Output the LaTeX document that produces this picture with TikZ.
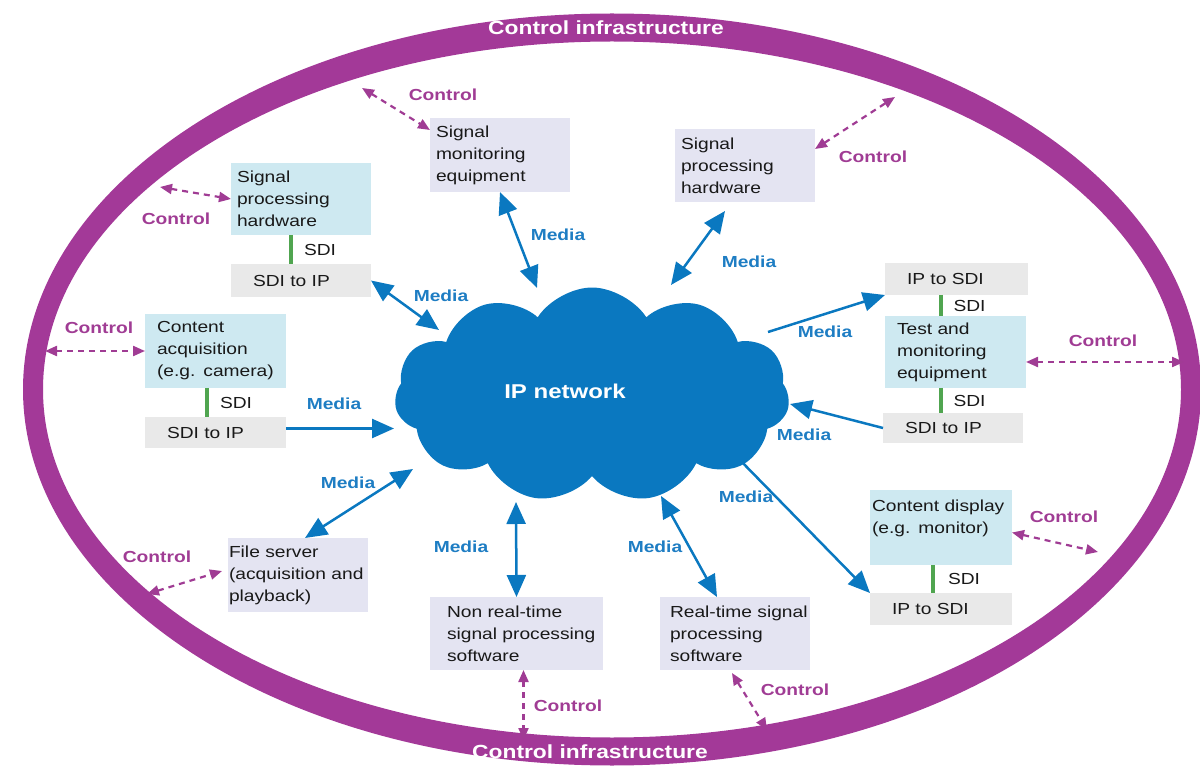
\documentclass[tikz,border=0pt]{standalone}
\usepackage{fontspec}
\setmainfont{Liberation Sans}[FakeStretch=1.2]
\usetikzlibrary{arrows.meta,shapes.symbols}

\definecolor{ringpurple}{RGB}{163,57,152}
\definecolor{ctlpurple}{RGB}{160,60,148}
\definecolor{netblue}{RGB}{10,120,192}
\definecolor{medblue}{RGB}{30,125,195}
\definecolor{paleblue}{RGB}{206,233,241}
\definecolor{lavender}{RGB}{228,228,242}
\definecolor{palegray}{RGB}{233,233,233}
\definecolor{sdigreen}{RGB}{80,165,80}
\definecolor{ink}{RGB}{25,25,25}

\begin{document}
\begin{tikzpicture}[x=1pt,y=-1pt,
  every node/.style={inner sep=0pt, outer sep=0pt},
  unitbox/.style={anchor=north west, inner xsep=6pt, align=left, text=ink,
    font=\fontsize{16}{22}\selectfont},
  devbox/.style={unitbox, fill=paleblue},
  hostbox/.style={unitbox, fill=lavender},
  convbox/.style={unitbox, fill=palegray, inner xsep=22pt},
  sdilink/.style={draw=sdigreen, line width=4pt},
  sditag/.style={font=\fontsize{16}{22}\selectfont, text=ink, anchor=west},
  medialink/.style={draw=netblue, line width=2.5pt, -{Triangle[length=22pt,width=19pt]}},
  mediaboth/.style={draw=netblue, line width=2.5pt,
    {Triangle[length=22pt,width=19pt]}-{Triangle[length=22pt,width=19pt]}},
  ctllink/.style={draw=ctlpurple, line width=2.2pt, dash pattern=on 6pt off 5pt,
    {Triangle[length=12pt,width=10pt]}-{Triangle[length=12pt,width=10pt]}},
  medialbl/.style={font=\bfseries\fontsize{16}{20}\selectfont, text=medblue},
  ctllbl/.style={font=\bfseries\fontsize{16}{20}\selectfont, text=ctlpurple},
  infralbl/.style={font=\bfseries\fontsize{19}{22}\selectfont, text=white},
]
\useasboundingbox (0,0) rectangle (1200,767);

% control infrastructure ring
\fill[ringpurple, even odd rule]
  (612,389.5) ellipse [x radius=589pt, y radius=376pt]
  (612,389.5) ellipse [x radius=569pt, y radius=348pt];
\node[infralbl] (infTop) at (606,28) {Control infrastructure};
\node[infralbl] (infBot) at (590,752) {Control infrastructure};

% IP network cloud
\node[shape=cloud, cloud puffs=11, cloud puff arc=115, aspect=1.8, fill=netblue,
  minimum width=395pt, minimum height=215pt] (net) at (592,395) {};
\node[font=\bfseries\fontsize{20}{24}\selectfont, text=white] (netlbl) at (565,391) {IP network};

% equipment boxes
\node[devbox, text width=128pt, minimum height=72pt] (sphA) at (231,163) {Signal\\processing\\hardware};
\node[convbox, text width=96pt, minimum height=33pt] (sdiA) at (231,264) {SDI to IP};
\node[hostbox, text width=128pt, minimum height=74pt] (mon) at (430,118) {Signal\\monitoring\\equipment};
\node[hostbox, text width=128pt, minimum height=73pt] (sphB) at (675,129) {Signal\\processing\\hardware};
\node[convbox, text width=99pt, minimum height=32pt] (ipsA) at (885,263) {IP to SDI};
\node[devbox, inner xsep=12pt, text width=117pt, minimum height=72pt] (tme) at (885,316) {Test and\\monitoring\\equipment};
\node[convbox, text width=96pt, minimum height=30pt] (sdiB) at (883,413) {SDI to IP};
\node[devbox, inner xsep=2pt, text width=138pt, minimum height=75pt] (cdisp) at (870,490) {\mbox{Content display}\\\mbox{(e.g. monitor)}\\\mbox{}};
\node[convbox, text width=98pt, minimum height=32pt] (ipsC) at (870,593) {IP to SDI};
\node[hostbox, inner xsep=1pt, text width=138pt, minimum height=74pt] (fsrv) at (228,538) {File server\\\mbox{(acquisition and}\\playback)};
\node[hostbox, inner xsep=17pt, text width=139pt, minimum height=73pt] (nrt) at (430,597) {Non real-time\\\mbox{signal processing}\\software};
\node[hostbox, inner xsep=10pt, text width=130pt, minimum height=73pt] (rts) at (660,597) {\mbox{Real-time signal}\\processing\\software};
\node[devbox, inner xsep=12pt, text width=117pt, minimum height=74pt] (cacq) at (145,314) {Content\\acquisition\\\mbox{(e.g. camera)}};
\node[convbox, text width=97pt, minimum height=31pt] (sdiC) at (145,417) {SDI to IP};

% SDI links
\draw[sdilink] ([xshift=-10pt]sphA.south) -- ([xshift=-10pt]sphA.south |- sdiA.north)
  node[sditag, midway, xshift=13pt] (sdiTagA) {SDI};
\draw[sdilink] ([xshift=-8.5pt]cacq.south) -- ([xshift=-8.5pt]cacq.south |- sdiC.north)
  node[sditag, midway, xshift=13pt] (sdiTagC) {SDI};
\draw[sdilink] ([xshift=-16pt]ipsA.south) -- ([xshift=-16pt]ipsA.south |- tme.north)
  node[sditag, midway, xshift=13pt] (sdiTagB1) {SDI};
\draw[sdilink] ([xshift=-15pt]tme.south) -- ([xshift=-15pt]tme.south |- sdiB.north)
  node[sditag, midway, xshift=13pt] (sdiTagB2) {SDI};
\draw[sdilink] ([xshift=-8pt]cdisp.south) -- ([xshift=-8pt]cdisp.south |- ipsC.north)
  node[sditag, midway, xshift=15pt] (sdiTagD) {SDI};

% points on the cloud rim
\coordinate (cl1) at (439,330);
\coordinate (cl2) at (537,288);
\coordinate (cl3) at (671,285);
\coordinate (cl4) at (768,332);
\coordinate (cl5) at (790,404);
\coordinate (cl6) at (735,455);
\coordinate (cl7) at (661,496);
\coordinate (cl8) at (516,502);
\coordinate (cl9) at (413,469);
\coordinate (cl10) at (394,428.5);

% media flows
\draw[mediaboth] (sdiA.east) -- (cl1);
\draw[mediaboth] (mon.south) -- (cl2);
\draw[mediaboth] ([xshift=-20pt,yshift=-9pt]sphB.south) -- (cl3);
\draw[medialink] (cl4) -- (ipsA.south west);
\draw[medialink] (sdiB.west) -- (cl5);
\draw[medialink] (cl6) -- (ipsC.north west);
\draw[mediaboth] (cl7) -- ([xshift=-18pt]rts.north);
\draw[mediaboth] (cl8) -- (nrt.north);
\draw[mediaboth] ([xshift=7pt]fsrv.north) -- (cl9);
\draw[medialink] ([yshift=4pt]sdiC.east) -- (cl10);

\node[medialbl] (mA) at (441,296) {Media};
\node[medialbl] (mB) at (558,235) {Media};
\node[medialbl] (mC) at (749,262) {Media};
\node[medialbl] (mD) at (825,332) {Media};
\node[medialbl] (mE) at (804,435) {Media};
\node[medialbl] (mF) at (746,497) {Media};
\node[medialbl] (mG) at (655,547) {Media};
\node[medialbl] (mH) at (461,547) {Media};
\node[medialbl] (mI) at (348,483) {Media};
\node[medialbl] (mJ) at (334,404) {Media};

% points on the control ring
\coordinate (k1) at (160,187);
\coordinate (k2) at (362,88);
\coordinate (k3) at (895,97);
\coordinate (k4) at (1184,362);
\coordinate (k5) at (1098,552);
\coordinate (k6) at (147,594);
\coordinate (k7) at (523.5,740);
\coordinate (k8) at (767,730);
\coordinate (k9) at (45,351);

% control flows
\draw[ctllink] (k1) -- (sphA.west);
\draw[ctllink] (k2) -- ([yshift=-12pt]mon.north west);
\draw[ctllink] ([yshift=-20pt]sphB.north east) -- (k3);
\draw[ctllink] ([yshift=-10pt]tme.east) -- (k4);
\draw[ctllink] ([yshift=-5pt]cdisp.east) -- (k5);
\draw[ctllink] (k6) -- ([xshift=-6pt,yshift=4pt]fsrv.west);
\draw[ctllink] ([xshift=7pt]nrt.south) -- (k7);
\draw[ctllink] ([xshift=-3pt,yshift=-3pt]rts.south) -- (k8);
\draw[ctllink] (k9) -- (cacq.west);

\node[ctllbl] (cA) at (176,219) {Control};
\node[ctllbl] (cB) at (443,95) {Control};
\node[ctllbl] (cC) at (873,157) {Control};
\node[ctllbl] (cD) at (1103,341) {Control};
\node[ctllbl] (cE) at (1064,517) {Control};
\node[ctllbl] (cF) at (157,557) {Control};
\node[ctllbl] (cG) at (568,706) {Control};
\node[ctllbl] (cH) at (795,690) {Control};
\node[ctllbl] (cI) at (99,328) {Control};
\end{tikzpicture}
\end{document}
